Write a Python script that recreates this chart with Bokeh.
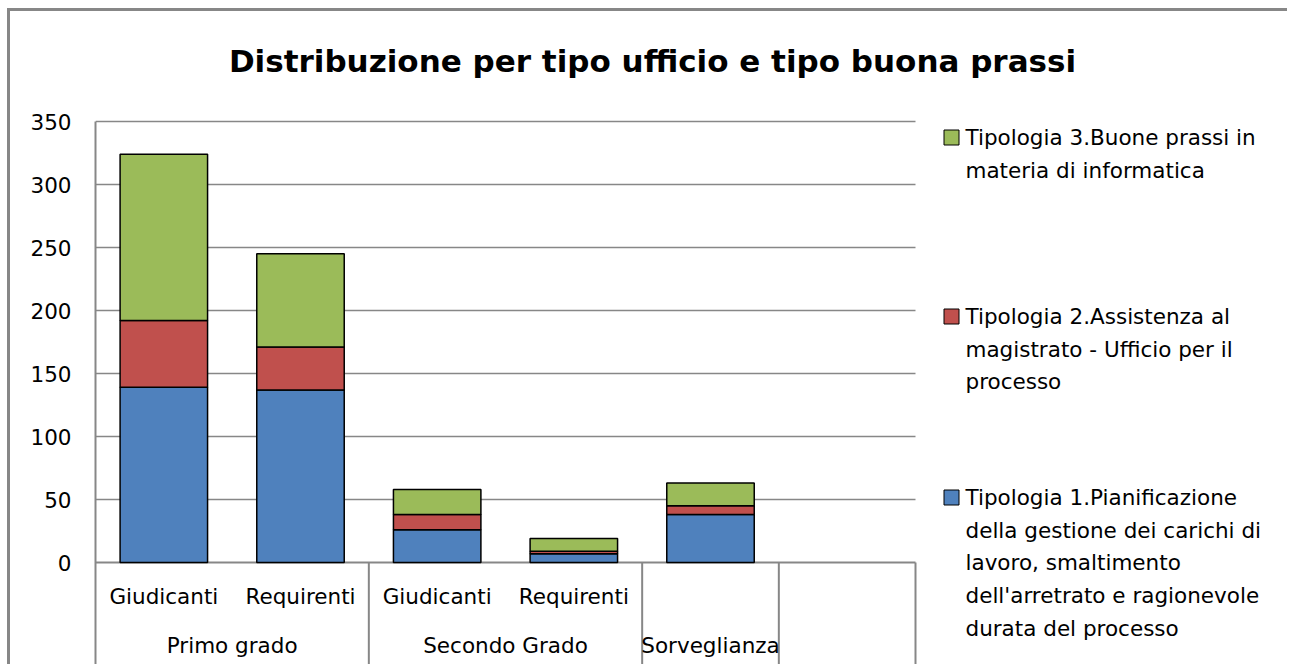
from bokeh.plotting import figure
from bokeh.models import Range1d, FixedTicker, ColumnDataSource
from bokeh.core.properties import value
from bokeh.embed import file_html
from bokeh.resources import INLINE

# ---------------- data ----------------
title = "Distribuzione per tipo ufficio e tipo buona prassi"
groups = ["Primo grado", "Secondo Grado", "Sorveglianza", ""]
group_sizes = [2, 2, 1, 1]
subcats = ["Giudicanti", "Requirenti", "Giudicanti", "Requirenti", "", ""]
tip1 = [139, 137, 26, 7, 38]
tip2 = [53, 34, 12, 2, 7]
tip3 = [132, 74, 20, 10, 18]
series_lines = [
    ["Tipologia 3.Buone prassi in", "materia di informatica"],
    ["Tipologia 2.Assistenza al", "magistrato - Ufficio per il", "processo"],
    ["Tipologia 1.Pianificazione", "della gestione dei carichi di", "lavoro, smaltimento",
     "dell'arretrato e ragionevole", "durata del processo"],
]
colors = ["#4F81BD", "#C0504D", "#9BBB59"]
legend_colors = ["#9BBB59", "#C0504D", "#4F81BD"]
y_ticks = [0, 50, 100, 150, 200, 250, 300, 350]

# ---------------- geometry (pixel targets) ----------------
FONT = "DejaVu Sans"
FS = "21.5px"
GRID = "#878787"
OX, OY = 10, 11            # canvas origin on page (after margin + css border)
W, H = 1280, 656
PL = 95                    # plot area left (page px)
PX0, PX_UNIT = 95, 136.667 # x=0 at 95, one slot = 136.667 px
PY0, PY_UNIT = 562, 1.26   # y=0 at 562, 1 unit = 1.26 px
n_slots = sum(group_sizes)

def dx(px):
    return (px - PX0) / PX_UNIT

def dy(py):
    return (PY0 - py) / PY_UNIT

x_end = dx(OX + W)
y_top = dy(OY)
y_bot = dy(OY + H)

p = figure(width=W, height=H, x_range=Range1d(0, x_end), y_range=Range1d(y_bot, y_top),
           output_backend="svg", toolbar_location=None, title=None,
           x_axis_location=None, y_axis_location="left",
           min_border_left=PL - OX, min_border_right=0, min_border_top=0, min_border_bottom=0)
p.outline_line_color = None
p.background_fill_color = "white"
p.border_fill_color = "white"
p.grid.visible = False
p.styles = {"margin-left": "7px", "margin-top": "8px",
            "border-left": "3px solid #878787", "border-top": "3px solid #878787"}

yax = p.yaxis[0]
yax.ticker = FixedTicker(ticks=y_ticks)
yax.bounds = (y_bot, max(y_ticks))
yax.axis_line_color = GRID
yax.axis_line_width = 2
yax.major_tick_line_color = None
yax.minor_tick_line_color = None
yax.major_label_standoff = 18
yax.major_label_text_font = FONT
yax.major_label_text_font_size = FS
yax.major_label_text_color = "black"

# gridlines (only across the category slots)
p.segment(x0=[0] * (len(y_ticks) - 1), x1=[n_slots] * (len(y_ticks) - 1),
          y0=y_ticks[1:], y1=y_ticks[1:], line_color=GRID, line_width=1.5)
# category axis line
p.segment(x0=[0], x1=[n_slots], y0=[0], y1=[0], line_color=GRID, line_width=2)

# group separators
bounds = [0]
for s in group_sizes:
    bounds.append(bounds[-1] + s)
sep = bounds[1:]
p.segment(x0=sep, x1=sep, y0=[0] * len(sep), y1=[y_bot] * len(sep), line_color=GRID, line_width=2)

# stacked bars
n = len(tip1)
src = ColumnDataSource(dict(x=[i + 0.5 for i in range(n)], tip1=tip1, tip2=tip2, tip3=tip3))
p.vbar_stack(["tip1", "tip2", "tip3"], x="x", width=0.64, fill_color=colors,
             line_color="black", line_width=1.5, source=src)

# category labels
sx = [i + 0.5 for i, s in enumerate(subcats) if s]
st = [s for s in subcats if s]
p.text(x=sx, y=[dy(596)] * len(sx), text=st, text_font=value(FONT), text_font_size=FS,
       text_align="center", text_baseline="middle", text_color="black")
gx = [(bounds[i] + bounds[i + 1]) / 2 for i, g in enumerate(groups) if g]
gt = [g for g in groups if g]
p.text(x=gx, y=[dy(645)] * len(gx), text=gt, text_font=value(FONT), text_font_size=FS,
       text_align="center", text_baseline="middle", text_color="black")

# title
p.text(x=[dx(652)], y=[dy(60)], text=[title], text_font=value(FONT), text_font_size="31px",
       text_font_style="bold", text_align="center", text_baseline="middle", text_color="black")

# legend
first_line_py = [137, 316, 497]
line_gap = 32.7
p.rect(x=[dx(951)] * 3, y=[dy(v) for v in first_line_py], width=15, height=15,
       width_units="screen", height_units="screen", fill_color=legend_colors,
       line_color="black", line_width=1)
lx, ly, lt = [], [], []
for k, lines in enumerate(series_lines):
    for j, t in enumerate(lines):
        lx.append(dx(965))
        ly.append(dy(first_line_py[k] + j * line_gap))
        lt.append(t)
p.text(x=lx, y=ly, text=lt, text_font=value(FONT), text_font_size=FS,
       text_align="left", text_baseline="middle", text_color="black")

open("out.html", "w").write(file_html(p, INLINE))
